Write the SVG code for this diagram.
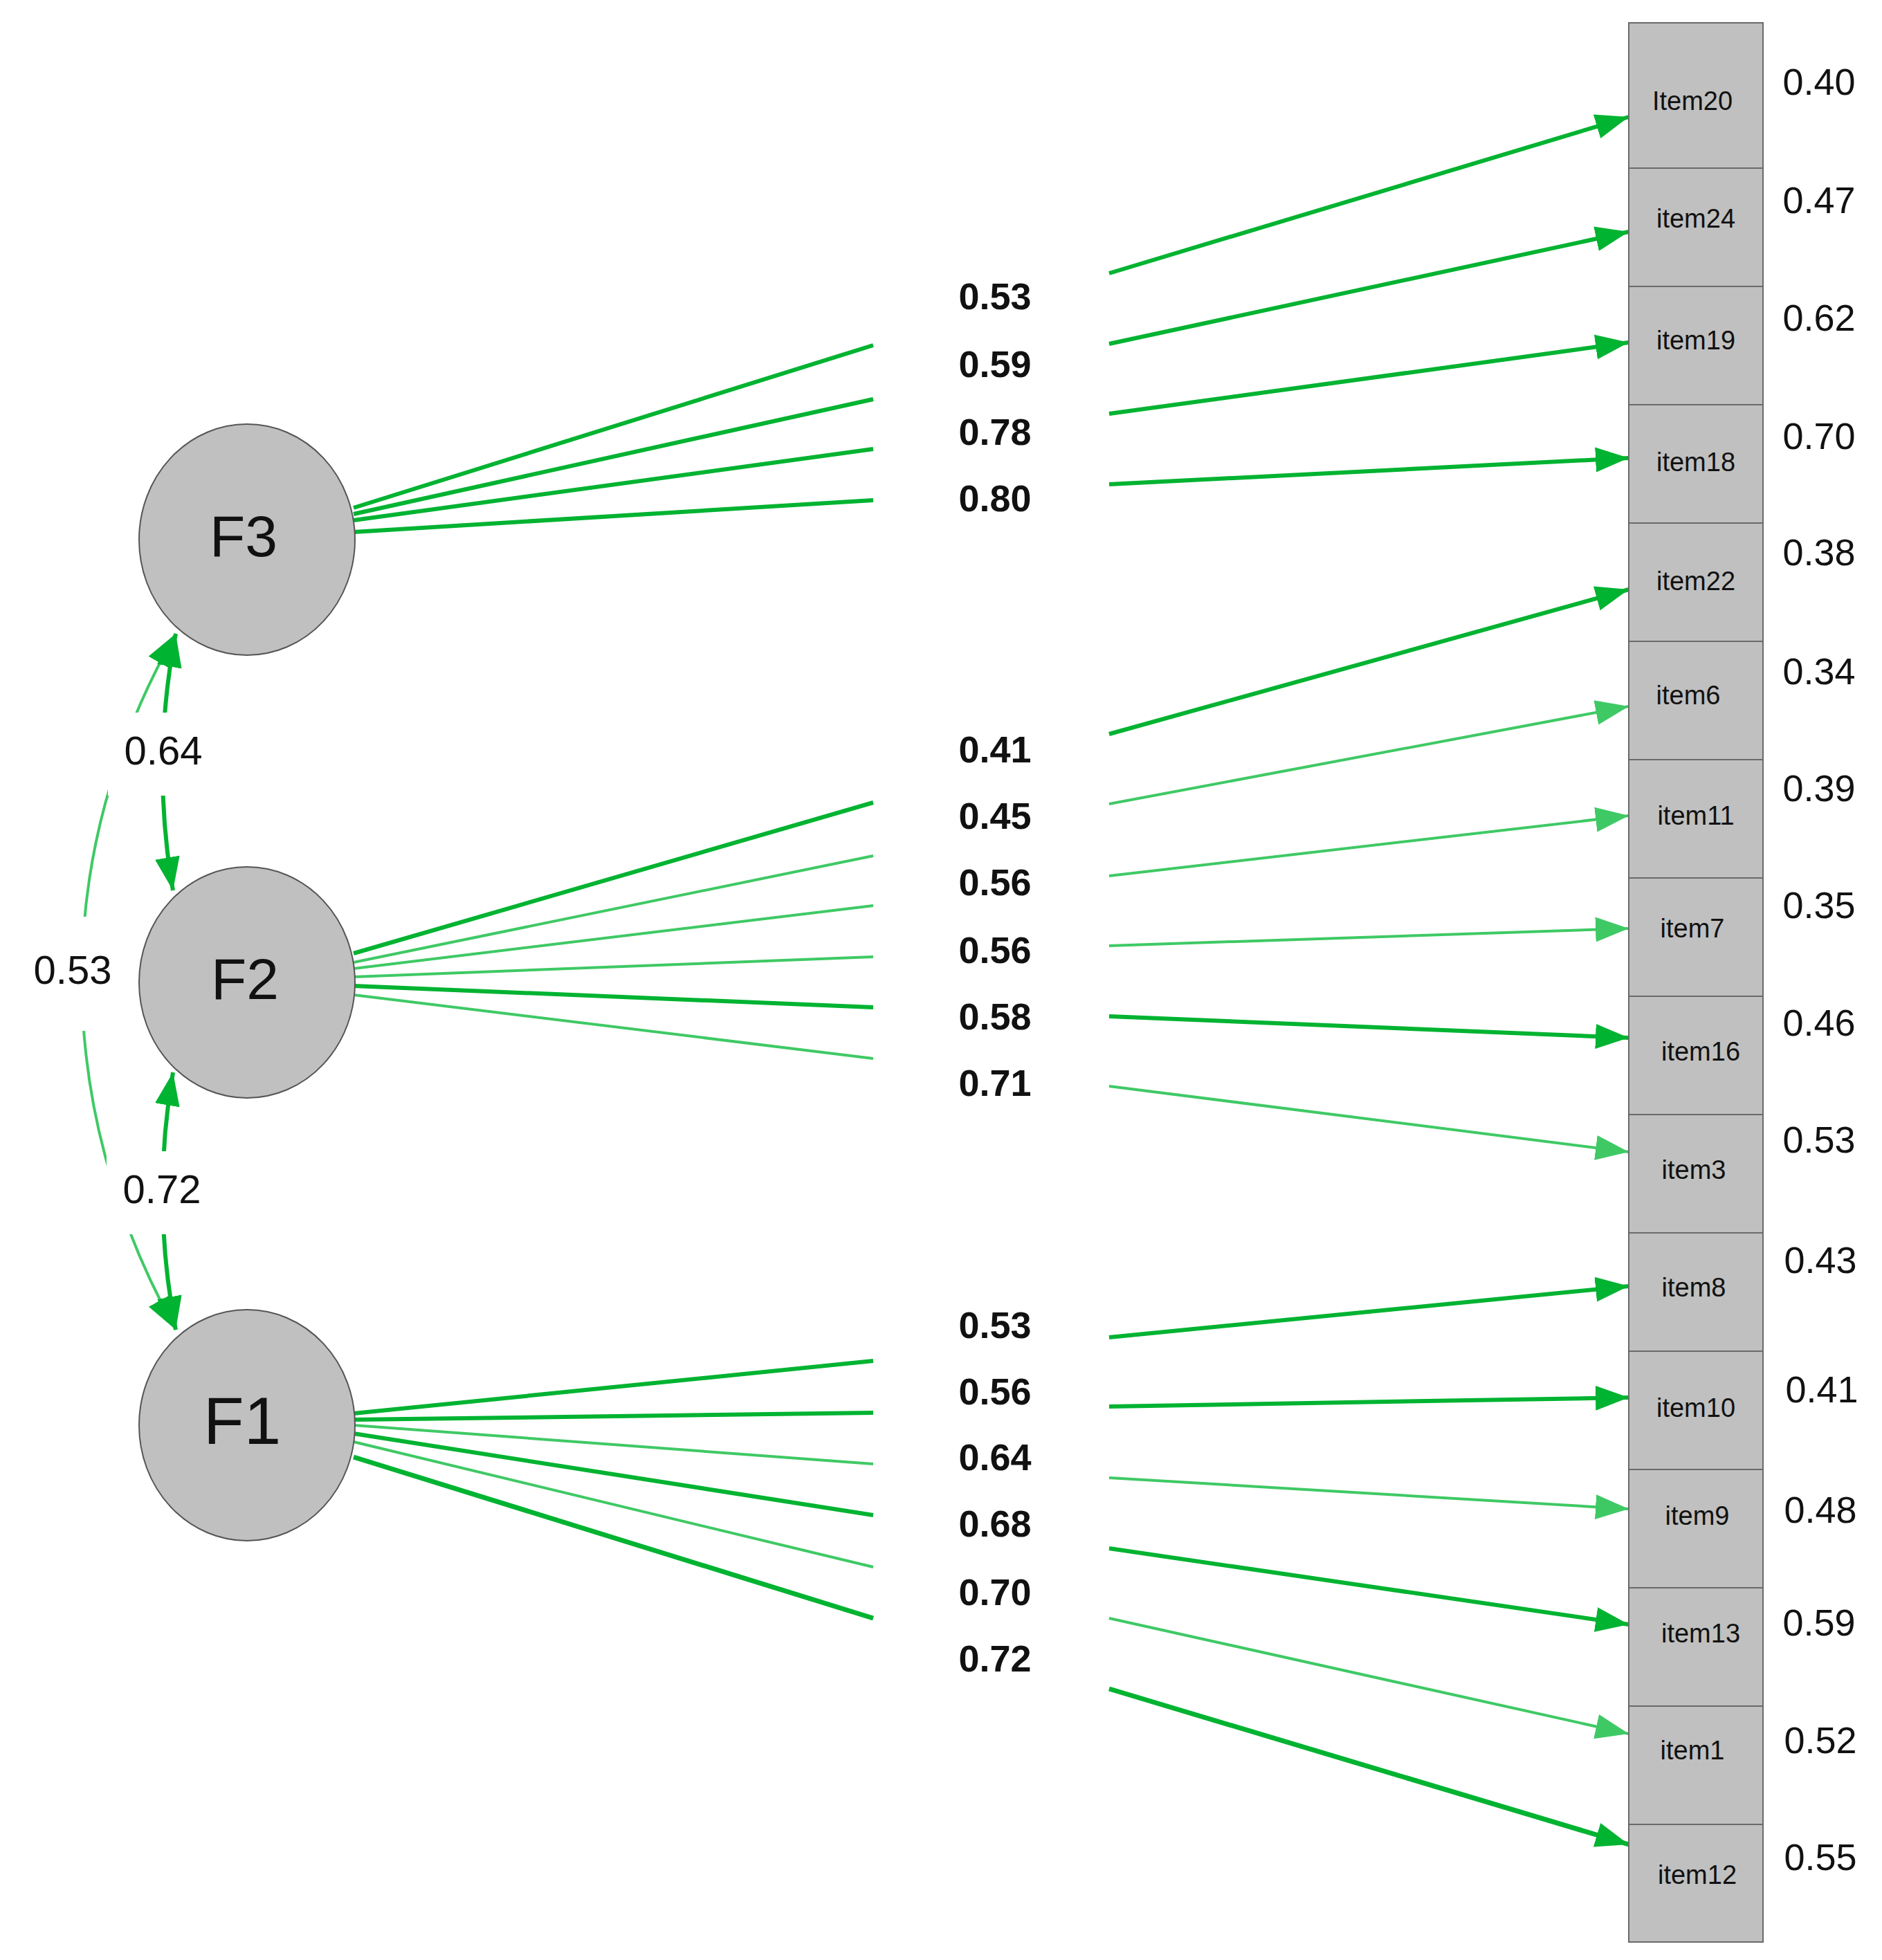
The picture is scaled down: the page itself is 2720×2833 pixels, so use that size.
<svg xmlns="http://www.w3.org/2000/svg" width="2720" height="2833" viewBox="0 0 2720 2833">
<style>
.t{font-family:"Liberation Sans",Arial,sans-serif;fill:#111}
.ld{font-size:54px;font-weight:bold;text-anchor:middle;dominant-baseline:middle}
.rv{font-size:54px;text-anchor:middle;dominant-baseline:middle}
.cv{font-size:58px;text-anchor:middle;dominant-baseline:middle}
.it{font-size:38px;text-anchor:middle;dominant-baseline:middle}
.fl{font-size:84px;text-anchor:middle;dominant-baseline:middle}
.box{fill:#c0c0c0;stroke:#6a6a6a;stroke-width:2}
.lat{fill:#c0c0c0;stroke:#555;stroke-width:2}
.g{stroke:#00b331;fill:none;stroke-width:6}
.l{stroke:#3fc965;fill:none;stroke-width:4}
</style>
<defs>
<marker id="a" markerUnits="userSpaceOnUse" markerWidth="50" markerHeight="40" refX="48" refY="20" orient="auto"><path d="M0,2 L48,20 L0,38 Z" fill="#00b331"/></marker>
<marker id="al" markerUnits="userSpaceOnUse" markerWidth="50" markerHeight="40" refX="48" refY="20" orient="auto"><path d="M0,2 L48,20 L0,38 Z" fill="#3fc965"/></marker>
<marker id="as" markerUnits="userSpaceOnUse" markerWidth="50" markerHeight="40" refX="48" refY="20" orient="auto-start-reverse"><path d="M0,2 L48,20 L0,38 Z" fill="#00b331"/></marker>
</defs>
<g id="connectors">
<path class="g" d="M511,734 L1262,499"/><path class="g" d="M511,743 L1262,577"/><path class="g" d="M511,752 L1262,649"/><path class="g" d="M511,769 L1262,723"/>
<path class="g" d="M511,1378 L1262,1160"/><path class="l" d="M511,1391 L1262,1237"/><path class="l" d="M511,1400 L1262,1309"/><path class="l" d="M511,1412 L1262,1383"/><path class="g" d="M511,1425 L1262,1456"/><path class="l" d="M511,1438 L1262,1530"/>
<path class="g" d="M511,2043 L1262,1967"/><path class="g" d="M511,2052 L1262,2042"/><path class="l" d="M511,2060 L1262,2116"/><path class="g" d="M511,2072 L1262,2190"/><path class="l" d="M511,2084 L1262,2265"/><path class="g" d="M511,2106 L1262,2339" style="stroke-width:7"/>
<path class="g" d="M1603,395 L2354,169" marker-end="url(#a)"/>
<path class="g" d="M1603,497 L2354,335" marker-end="url(#a)"/>
<path class="g" d="M1603,598 L2354,495" marker-end="url(#a)"/>
<path class="g" d="M1603,700 L2354,662" marker-end="url(#a)"/>
<path class="g" d="M1603,1061 L2354,852" marker-end="url(#a)"/>
<path class="l" d="M1603,1162 L2354,1021" marker-end="url(#al)"/>
<path class="l" d="M1603,1266 L2354,1179" marker-end="url(#al)"/>
<path class="l" d="M1603,1367 L2354,1342" marker-end="url(#al)"/>
<path class="g" d="M1603,1469 L2354,1500" marker-end="url(#a)"/>
<path class="l" d="M1603,1570 L2354,1665" marker-end="url(#al)"/>
<path class="g" d="M1603,1933 L2354,1859" marker-end="url(#a)"/>
<path class="g" d="M1603,2033 L2354,2020" marker-end="url(#a)"/>
<path class="l" d="M1603,2136 L2354,2181" marker-end="url(#al)"/>
<path class="g" d="M1603,2238 L2354,2348" marker-end="url(#a)"/>
<path class="l" d="M1603,2339 L2354,2506" marker-end="url(#al)"/>
<path class="g" d="M1603,2441 L2354,2666" marker-end="url(#a)" style="stroke-width:7"/>
<path class="l" d="M254,916 C73,1233 73,1596 254,1922" marker-start="url(#as)" marker-end="url(#as)"/>
<path class="g" d="M254,916 Q218,1101 250,1287" marker-start="url(#as)" marker-end="url(#as)"/>
<path class="g" d="M250,1550 Q218,1735 254,1922" marker-start="url(#as)" marker-end="url(#as)"/>
</g>
<g id="covlabels">
<rect x="156" y="1030" width="160" height="120" fill="#fff"/><text class="t cv" x="236" y="1090">0.64</text>
<rect x="25" y="1325" width="160" height="165" fill="#fff"/><text class="t cv" x="105" y="1407">0.53</text>
<rect x="154" y="1664" width="160" height="120" fill="#fff"/><text class="t cv" x="234" y="1724">0.72</text>
</g>
<g id="F3"><ellipse class="lat" cx="357" cy="780" rx="156" ry="167"/><text class="t fl" x="352" y="782">F3</text></g>
<g id="F2"><ellipse class="lat" cx="357" cy="1420" rx="156" ry="167"/><text class="t fl" x="354" y="1422">F2</text></g>
<g id="F1"><ellipse class="lat" cx="357" cy="2060" rx="156" ry="167"/><text class="t fl" x="350" y="2062" style="font-size:96px">F1</text></g>
<g id="loadings">
<text class="t ld" x="1438" y="433">0.53</text><text class="t ld" x="1438" y="531">0.59</text><text class="t ld" x="1438" y="629">0.78</text><text class="t ld" x="1438" y="725">0.80</text>
<text class="t ld" x="1438" y="1088">0.41</text><text class="t ld" x="1438" y="1184">0.45</text><text class="t ld" x="1438" y="1280">0.56</text><text class="t ld" x="1438" y="1378">0.56</text><text class="t ld" x="1438" y="1474">0.58</text><text class="t ld" x="1438" y="1570">0.71</text>
<text class="t ld" x="1438" y="1920">0.53</text><text class="t ld" x="1438" y="2016">0.56</text><text class="t ld" x="1438" y="2111">0.64</text><text class="t ld" x="1438" y="2207">0.68</text><text class="t ld" x="1438" y="2306">0.70</text><text class="t ld" x="1438" y="2402">0.72</text>
</g>
<g id="items">
<g id="Item20"><rect class="box" x="2354" y="33" width="194" height="210"/><text class="t it" x="2446" y="149">Item20</text></g>
<g id="item24"><rect class="box" x="2354" y="243" width="194" height="171"/><text class="t it" x="2451" y="319">item24</text></g>
<g id="item19"><rect class="box" x="2354" y="414" width="194" height="171"/><text class="t it" x="2451" y="495">item19</text></g>
<g id="item18"><rect class="box" x="2354" y="585" width="194" height="171"/><text class="t it" x="2451" y="671">item18</text></g>
<g id="item22"><rect class="box" x="2354" y="756" width="194" height="171"/><text class="t it" x="2451" y="843">item22</text></g>
<g id="item6"><rect class="box" x="2354" y="927" width="194" height="171"/><text class="t it" x="2440" y="1008">item6</text></g>
<g id="item11"><rect class="box" x="2354" y="1098" width="194" height="171"/><text class="t it" x="2451" y="1182">item11</text></g>
<g id="item7"><rect class="box" x="2354" y="1269" width="194" height="171"/><text class="t it" x="2446" y="1345">item7</text></g>
<g id="item16"><rect class="box" x="2354" y="1440" width="194" height="171"/><text class="t it" x="2458" y="1523">item16</text></g>
<g id="item3"><rect class="box" x="2354" y="1611" width="194" height="171"/><text class="t it" x="2448" y="1694">item3</text></g>
<g id="item8"><rect class="box" x="2354" y="1782" width="194" height="171"/><text class="t it" x="2448" y="1864">item8</text></g>
<g id="item10"><rect class="box" x="2354" y="1953" width="194" height="171"/><text class="t it" x="2451" y="2038">item10</text></g>
<g id="item9"><rect class="box" x="2354" y="2124" width="194" height="171"/><text class="t it" x="2453" y="2194">item9</text></g>
<g id="item13"><rect class="box" x="2354" y="2295" width="194" height="171"/><text class="t it" x="2458" y="2364">item13</text></g>
<g id="item1"><rect class="box" x="2354" y="2466" width="194" height="171"/><text class="t it" x="2446" y="2533">item1</text></g>
<g id="item12"><rect class="box" x="2354" y="2637" width="194" height="170"/><text class="t it" x="2453" y="2713">item12</text></g>
</g>
<g id="residuals">
<text class="t rv" x="2629" y="123">0.40</text><text class="t rv" x="2629" y="294">0.47</text><text class="t rv" x="2629" y="464">0.62</text><text class="t rv" x="2629" y="635">0.70</text>
<text class="t rv" x="2629" y="803">0.38</text><text class="t rv" x="2629" y="975">0.34</text><text class="t rv" x="2629" y="1144">0.39</text><text class="t rv" x="2629" y="1313">0.35</text>
<text class="t rv" x="2629" y="1483">0.46</text><text class="t rv" x="2629" y="1652">0.53</text><text class="t rv" x="2631" y="1826">0.43</text><text class="t rv" x="2633" y="2013">0.41</text>
<text class="t rv" x="2631" y="2187">0.48</text><text class="t rv" x="2629" y="2350">0.59</text><text class="t rv" x="2631" y="2520">0.52</text><text class="t rv" x="2631" y="2689">0.55</text>
</g>
</svg>
